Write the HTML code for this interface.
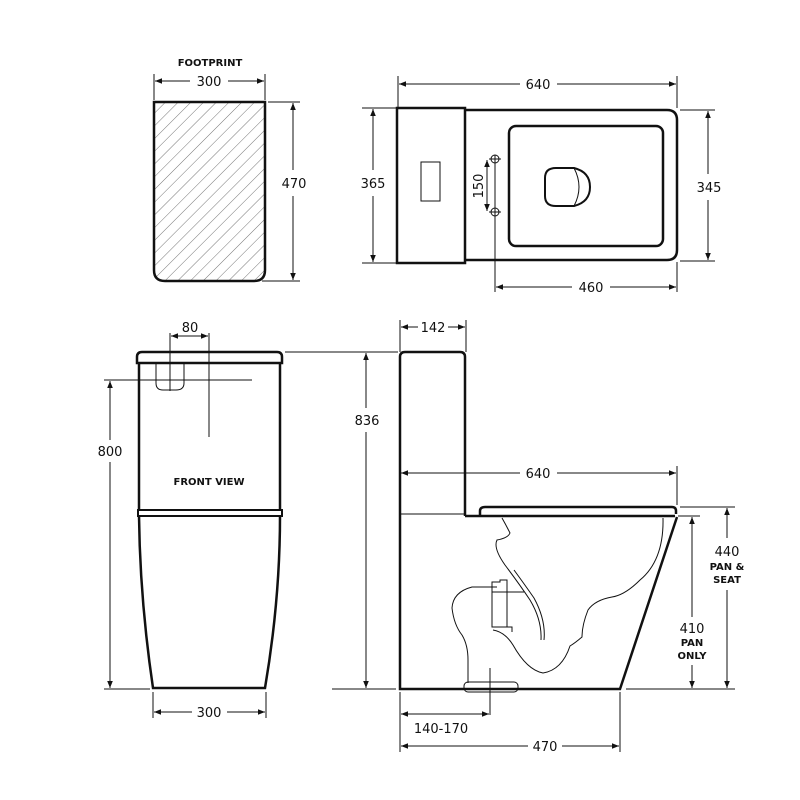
<!DOCTYPE html>
<html><head><meta charset="utf-8"><style>
html,body{margin:0;padding:0;background:#fff}
svg{display:block}
text{font-family:"DejaVu Sans","Liberation Sans",sans-serif;fill:#111}
.d{font-size:13px}
.b{font-size:10px;font-weight:bold}
</style></head><body>
<svg width="800" height="800" viewBox="0 0 800 800" xmlns="http://www.w3.org/2000/svg">
<defs>
<marker id="a" viewBox="0 0 10 10" refX="10" refY="5" markerWidth="7" markerHeight="7" orient="auto-start-reverse"><path d="M0,1 L10,5 L0,9 z" fill="#111"/></marker>
<pattern id="h" width="9" height="9" patternUnits="userSpaceOnUse" patternTransform="rotate(45)"><line x1="0" y1="0" x2="0" y2="9" stroke="#777" stroke-width="1"/></pattern>
<clipPath id="fp"><path d="M154,102 H265 V270 Q265,281 254,281 H165 Q154,281 154,270 Z"/></clipPath>
</defs>
<g fill="none" stroke="#111" stroke-width="1">
<!-- FOOTPRINT -->
<rect x="150" y="100" width="120" height="185" fill="url(#h)" clip-path="url(#fp)" stroke="none"/>
<path d="M154,102 H265 V270 Q265,281 254,281 H165 Q154,281 154,270 Z" stroke-width="2.5"/>
<line x1="154" y1="74" x2="154" y2="100"/><line x1="265" y1="74" x2="265" y2="100"/>
<line x1="155" y1="81" x2="190" y2="81" marker-start="url(#a)"/><line x1="228" y1="81" x2="264" y2="81" marker-end="url(#a)"/>
<line x1="268" y1="102" x2="300" y2="102"/><line x1="262" y1="281" x2="300" y2="281"/>
<line x1="293" y1="103" x2="293" y2="170" marker-start="url(#a)"/><line x1="293" y1="196" x2="293" y2="280" marker-end="url(#a)"/>

<!-- TOP VIEW -->
<rect x="397" y="108" width="68" height="155" stroke-width="2.5"/>
<path d="M465,110 H667 Q677,110 677,120 V250 Q677,260 667,260 H465" stroke-width="2.5"/>
<rect x="509" y="126" width="154" height="120" rx="7" stroke-width="2.5"/>
<rect x="421" y="162" width="19" height="39"/>
<path d="M556,168 H574 Q590,172 590,187 Q590,202 574,206 H556 Q545,206 545,196 V178 Q545,168 556,168 Z" stroke-width="2"/>
<path d="M574,168 Q584,187 574,206"/>
<circle cx="495" cy="159" r="4"/><circle cx="495" cy="212" r="4"/>
<line x1="489" y1="159" x2="501" y2="159"/><line x1="489" y1="212" x2="501" y2="212"/>
<line x1="495" y1="155" x2="495" y2="292"/>
<line x1="487" y1="160" x2="487" y2="211" marker-start="url(#a)" marker-end="url(#a)"/>
<line x1="398" y1="76" x2="398" y2="107"/><line x1="677" y1="76" x2="677" y2="108"/>
<line x1="399" y1="84" x2="520" y2="84" marker-start="url(#a)"/><line x1="557" y1="84" x2="676" y2="84" marker-end="url(#a)"/>
<line x1="362" y1="108" x2="396" y2="108"/><line x1="362" y1="263" x2="396" y2="263"/>
<line x1="373" y1="109" x2="373" y2="170" marker-start="url(#a)"/><line x1="373" y1="196" x2="373" y2="262" marker-end="url(#a)"/>
<line x1="680" y1="110" x2="715" y2="110"/><line x1="680" y1="261" x2="715" y2="261"/>
<line x1="708" y1="111" x2="708" y2="174" marker-start="url(#a)"/><line x1="708" y1="200" x2="708" y2="260" marker-end="url(#a)"/>
<line x1="677" y1="262" x2="677" y2="292"/>
<line x1="496" y1="287" x2="572" y2="287" marker-start="url(#a)"/><line x1="610" y1="287" x2="676" y2="287" marker-end="url(#a)"/>

<!-- FRONT VIEW -->
<path d="M137,363 V357 Q137,352 142,352 H277 Q282,352 282,357 V363 Z" stroke-width="2.5"/>
<path d="M139,364 V510 M280,364 V510" stroke-width="2.5"/>
<path d="M156,364 V383 Q156,390 163,390 H176 Q184,390 184,383 V364"/>
<rect x="138" y="510" width="144" height="6" stroke-width="2"/>
<path d="M139,516 Q140,600 153,688 H265 Q280,600 280,516" stroke-width="2.5"/>
<line x1="170" y1="333" x2="170" y2="391"/><line x1="209" y1="333" x2="209" y2="437"/>
<line x1="171" y1="336" x2="208" y2="336" marker-start="url(#a)" marker-end="url(#a)"/>
<line x1="104" y1="380" x2="252" y2="380"/>
<line x1="110" y1="381" x2="110" y2="440" marker-start="url(#a)"/><line x1="110" y1="462" x2="110" y2="688" marker-end="url(#a)"/>
<line x1="104" y1="689" x2="150" y2="689"/>
<line x1="153" y1="692" x2="153" y2="718"/><line x1="266" y1="692" x2="266" y2="718"/>
<line x1="154" y1="712" x2="192" y2="712" marker-start="url(#a)"/><line x1="227" y1="712" x2="265" y2="712" marker-end="url(#a)"/>
<line x1="285" y1="352" x2="398" y2="352"/>
<line x1="366" y1="353" x2="366" y2="408" marker-start="url(#a)"/><line x1="366" y1="432" x2="366" y2="688" marker-end="url(#a)"/>
<line x1="332" y1="689" x2="396" y2="689"/>

<!-- SIDE VIEW -->
<path d="M400,516 V357 Q400,352 405,352 H460 Q465,352 465,357 V516" stroke-width="2.5"/>
<path d="M400,516 V689 H620 L677,517" stroke-width="2.5"/>
<line x1="400" y1="514" x2="465" y2="514"/>
<line x1="465" y1="516" x2="675" y2="516" stroke-width="2.5"/>
<path d="M480,516 V511 Q480,507 485,507 H672 Q676,507 676,511 V514" stroke-width="2.5"/>
<!-- trapway -->
<path d="M502,518 Q506,525 510,533 Q508,538 497,540 Q493,548 505,565 Q520,585 530,600 Q542,620 541,640"/>
<path d="M544,640 Q546,620 534,598 Q525,585 514,570"/>
<path d="M663,518 Q664,560 640,580 Q625,595 612,597 Q595,600 588,610 Q582,625 582,637 Q575,643 570,646 Q562,670 543,673 Q527,670 513,645 Q505,632 493,630"/>
<path d="M492,582 H500 V580 H507 V627 H492 Z"/>
<line x1="492" y1="592" x2="524" y2="592"/>
<path d="M497,587 H472 Q453,592 452,608 Q454,625 462,635 Q468,645 468,660 V683"/>
<path d="M507,627 H512 V632"/>
<rect x="464" y="682" width="54" height="10" rx="4"/>
<line x1="490" y1="668" x2="490" y2="715"/>
<line x1="400" y1="320" x2="400" y2="352"/><line x1="466" y1="320" x2="466" y2="352"/>
<line x1="401" y1="327" x2="418" y2="327" marker-start="url(#a)"/><line x1="448" y1="327" x2="465" y2="327" marker-end="url(#a)"/>
<line x1="400" y1="466" x2="400" y2="480"/><line x1="677" y1="466" x2="677" y2="505"/>
<line x1="401" y1="473" x2="520" y2="473" marker-start="url(#a)"/><line x1="557" y1="473" x2="676" y2="473" marker-end="url(#a)"/>
<line x1="680" y1="507" x2="735" y2="507"/>
<line x1="678" y1="516" x2="700" y2="516"/>
<line x1="626" y1="689" x2="735" y2="689"/>
<line x1="727" y1="508" x2="727" y2="538" marker-start="url(#a)"/><line x1="727" y1="590" x2="727" y2="688" marker-end="url(#a)"/>
<line x1="692" y1="517" x2="692" y2="617" marker-start="url(#a)"/><line x1="692" y1="665" x2="692" y2="688" marker-end="url(#a)"/>
<line x1="400" y1="692" x2="400" y2="752"/><line x1="620" y1="692" x2="620" y2="752"/>
<line x1="401" y1="714" x2="489" y2="714" marker-start="url(#a)" marker-end="url(#a)"/>
<line x1="401" y1="746" x2="528" y2="746" marker-start="url(#a)"/><line x1="562" y1="746" x2="619" y2="746" marker-end="url(#a)"/>
</g>
<text class="b" x="210" y="66" text-anchor="middle">FOOTPRINT</text>
<text class="d" x="209" y="86" text-anchor="middle">300</text>
<text class="d" x="294" y="188" text-anchor="middle">470</text>
<text class="d" x="538" y="89" text-anchor="middle">640</text>
<text class="d" x="373" y="188" text-anchor="middle">365</text>
<text class="d" x="709" y="192" text-anchor="middle">345</text>
<text class="d" x="591" y="292" text-anchor="middle">460</text>
<text class="d" x="483" y="186" text-anchor="middle" transform="rotate(-90 483 186)">150</text>
<text class="d" x="190" y="332" text-anchor="middle">80</text>
<text class="b" x="209" y="485" text-anchor="middle">FRONT VIEW</text>
<text class="d" x="110" y="456" text-anchor="middle">800</text>
<text class="d" x="367" y="425" text-anchor="middle">836</text>
<text class="d" x="209" y="717" text-anchor="middle">300</text>
<text class="d" x="433" y="332" text-anchor="middle">142</text>
<text class="d" x="538" y="478" text-anchor="middle">640</text>
<text class="d" x="727" y="556" text-anchor="middle">440</text>
<text class="b" x="727" y="570" text-anchor="middle">PAN &amp;</text>
<text class="b" x="727" y="583" text-anchor="middle">SEAT</text>
<text class="d" x="692" y="633" text-anchor="middle">410</text>
<text class="b" x="692" y="646" text-anchor="middle">PAN</text>
<text class="b" x="692" y="659" text-anchor="middle">ONLY</text>
<text class="d" x="441" y="733" text-anchor="middle">140-170</text>
<text class="d" x="545" y="751" text-anchor="middle">470</text>
</svg>
</body></html>
